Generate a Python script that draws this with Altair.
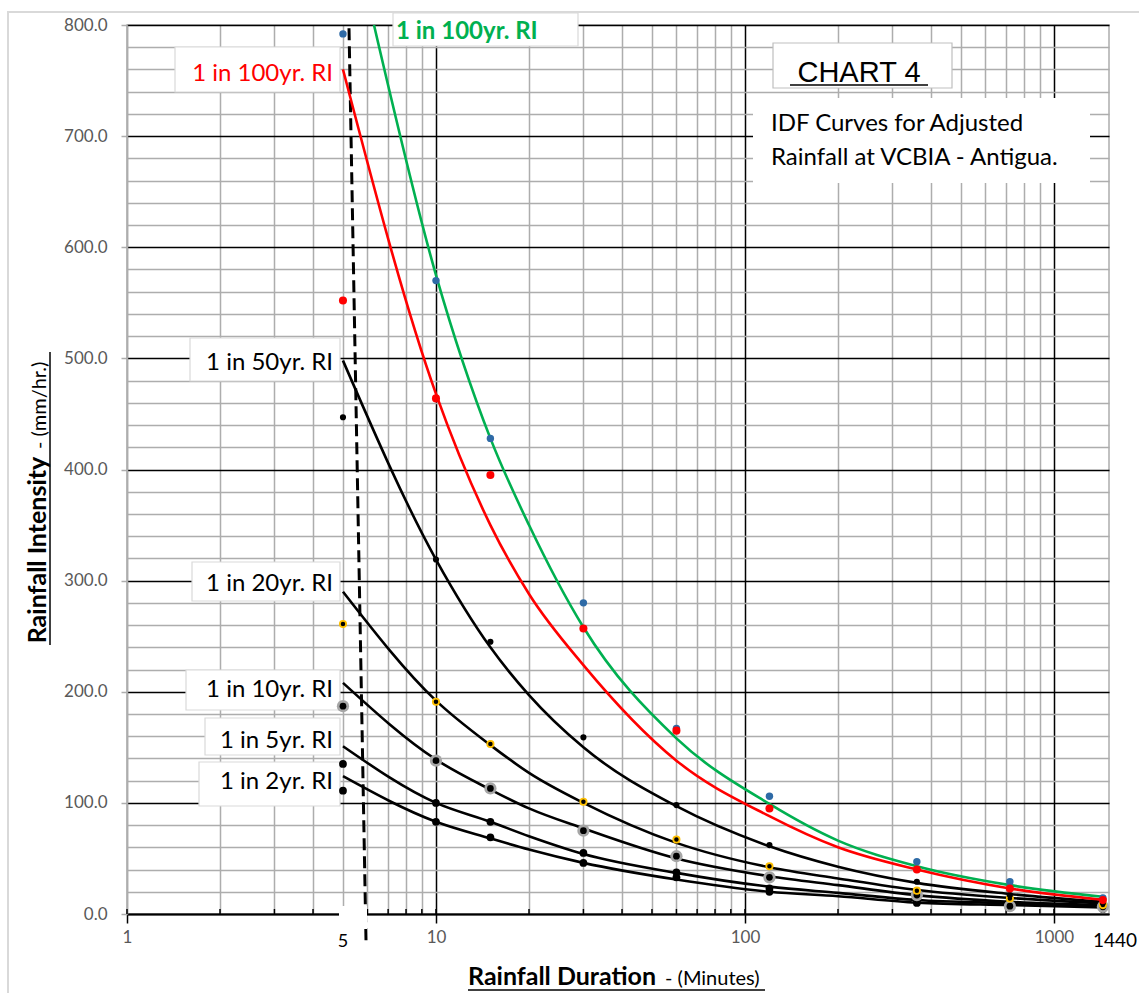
import altair as alt
import pandas as pd

# ---------------- data ----------------
durations = [5, 10, 15, 30, 60, 120, 360, 720, 1440]

pts_100_blue = [792, 570, 428, 280, 167, 106, 47, 29, 14.5]
pts_100_red = [552, 464, 395, 257, 165, 95, 40, 23, 12.5]
pts_50 = [447, 319, 245, 159, 98, 62, 29, 17, 10]
pts_20 = [261, 191, 153, 101, 67, 43, 21, 14, 8]
pts_10 = [187, 138, 113, 75, 52, 33, 17, 7, 6.5]
pts_5 = [135, 100, 83, 55, 37.5, 23, 12, 10, 5.5]
pts_2 = [111, 83, 69, 46, 33, 20, 10, 8, 4.5]

curve_dur = [5, 10, 15, 20, 30, 60, 120, 200, 360, 720, 1440]
curve_dur_green = [6.3, 10, 15, 20, 30, 60, 120, 200, 360, 720, 1440]
curve_100_green = [800, 575, 428, 350, 258, 158, 99, 66, 43, 26, 15.5]
curve_100_red = [760, 468, 350, 288, 224, 138, 88, 60, 40, 23, 12.8]
curve_50 = [498, 319, 240, 197, 150, 97, 61, 42.6, 28, 18, 11]
curve_20 = [290, 192, 152, 127, 100, 64, 42, 32, 21.6, 14.4, 9.6]
curve_10 = [208, 139, 112, 95, 77, 50, 34, 26, 17, 11, 8]
curve_5 = [151, 100, 83, 70, 54, 37, 24.6, 19, 12.6, 9.6, 6.6]
curve_2 = [124, 83, 68, 58, 46, 31, 20, 16, 10.2, 8, 6]

# dashed reference line (duration, intensity)
ref_line_dur = [5.23, 5.94]
ref_line_val = [797, -28]

# axis ticks / grid
grid_x = [1, 2, 3, 4, 5, 6, 7, 8, 9,
          10, 20, 30, 40, 50, 60, 70, 80, 90,
          100, 200, 300, 400, 500, 600, 700, 800, 900, 1000]
grid_y = list(range(0, 801, 20))

# ---------------- styling ----------------
FONT = "Lato"
GRAY = "#ADADAD"
LBL = "#595959"

major_x = "datum.value==10||datum.value==100||datum.value==1000"
label_x = "datum.value==1||datum.value==10||datum.value==100||datum.value==1000"

x_scale = alt.Scale(type="log", domain=[1, 1507], nice=False)
y_scale = alt.Scale(domain=[0, 800], nice=False, zero=False)

x_axis = alt.Axis(
    values=grid_x,
    labelExpr="(" + label_x + ") ? format(datum.value, 'd') : ''",
    grid=True,
    gridColor={"condition": {"test": major_x, "value": "#000000"}, "value": GRAY},
    gridWidth=1.5,
    tickColor={"condition": {"test": label_x, "value": "#000000"}, "value": "transparent"},
    tickSize=9, tickWidth=1.5,
    domainColor="#000000", domainWidth=2,
    labelColor=LBL, labelFont=FONT, labelFontSize=17, labelPadding=6,
    labelOverlap=False, labelFlush=False,
)
y_axis = alt.Axis(
    values=grid_y,
    labelExpr="datum.value % 100 == 0 ? format(datum.value, '.1f') : ''",
    grid=True,
    gridColor={"condition": {"test": "datum.value % 100 == 0", "value": "#000000"}, "value": GRAY},
    gridWidth=1.5,
    tickColor={"condition": {"test": "datum.value % 100 == 0", "value": GRAY}, "value": "transparent"},
    tickSize=6, tickWidth=1.5,
    domainColor=GRAY, domainWidth=1.5,
    labelColor=LBL, labelFont=FONT, labelFontSize=17, labelPadding=14,
    labelOverlap=False,
)

X = alt.X("dur:Q", scale=x_scale, axis=x_axis, title=None)
Y = alt.Y("val:Q", scale=y_scale, axis=y_axis, title=None)

one = pd.DataFrame({"t": [""]})


def df(xs, ys):
    return pd.DataFrame({"dur": xs, "val": ys})


def box(x1, y1, x2, y2, stroke="#D9D9D9"):
    kw = dict(fill="white")
    if stroke:
        kw.update(stroke=stroke, strokeWidth=1.2)
    return alt.Chart(one).mark_rect(**kw).encode(
        x=alt.value(x1), x2=alt.value(x2), y=alt.value(y1), y2=alt.value(y2))


def txt(s, x, y, **kw):
    base = dict(font=FONT, fontSize=24, color="black", baseline="alphabetic")
    base.update(kw)
    return alt.Chart(pd.DataFrame({"t": [s]})).mark_text(**base).encode(
        x=alt.value(x), y=alt.value(y), text="t:N")


def hrule(x1, x2, y, w=1.5):
    return alt.Chart(one).mark_rule(color="black", strokeWidth=w).encode(
        x=alt.value(x1), x2=alt.value(x2), y=alt.value(y))


def vrule(x, y1, y2, w=1.5):
    return alt.Chart(one).mark_rule(color="black", strokeWidth=w).encode(
        x=alt.value(x), y=alt.value(y1), y2=alt.value(y2))


layers = []

# base layer carries the axes (invisible points)
layers.append(alt.Chart(df(durations, pts_2)).mark_circle(opacity=0).encode(x=X, y=Y))

# small inward ticks on the x axis
layers.append(alt.Chart(pd.DataFrame({"dur": grid_x})).mark_rule(
    color="black", strokeWidth=1.5).encode(x=X, y=alt.value(884), y2=alt.value(889)))

# outer frame
layers.append(alt.Chart(one).mark_rect(fillOpacity=0, stroke="#D9D9D9", strokeWidth=2).encode(
    x=alt.value(-119), x2=alt.value(1030), y=alt.value(-13), y2=alt.value(1000)))

# white label boxes
layers += [
    box(48, 22, 213, 67),            # red 100yr
    box(266, -12, 451, 21),          # green 100yr
    box(63, 313, 213, 356),          # 50yr
    box(65, 537, 213, 576),          # 20yr
    box(59, 645, 213, 685),          # 10yr
    box(78, 693, 213, 730),          # 5yr
    box(72, 737, 213, 781),          # 2yr
    box(646, 18, 825, 63, stroke="#BFBFBF"),   # CHART 4
    box(626, 73, 963, 158, stroke=None),       # IDF description
]

# dashed reference line
layers.append(alt.Chart(df(ref_line_dur, ref_line_val)).mark_line(
    color="black", strokeWidth=3, strokeDash=[12, 6]).encode(x=X, y=Y))
# box behind "5" label covering axis
layers.append(box(212, 881, 240, 904, stroke=None))

# fitted curves
curve_specs = [
    (curve_dur, curve_2, "black"),
    (curve_dur, curve_5, "black"),
    (curve_dur, curve_10, "black"),
    (curve_dur, curve_20, "black"),
    (curve_dur, curve_50, "black"),
    (curve_dur, curve_100_red, "#FF0000"),
    (curve_dur_green, curve_100_green, "#00B050"),
]
for xs, ys, col in curve_specs:
    layers.append(alt.Chart(df(xs, ys)).mark_line(
        color=col, strokeWidth=2.6, interpolate="monotone").encode(x=X, y=Y))

# data points
layers.append(alt.Chart(df(durations, pts_2)).mark_circle(color="black", size=60, opacity=1).encode(x=X, y=Y))
layers.append(alt.Chart(df(durations, pts_5)).mark_circle(color="black", size=60, opacity=1).encode(x=X, y=Y))
layers.append(alt.Chart(df(durations, pts_10)).mark_circle(color="#A6A6A6", size=150, opacity=1).encode(x=X, y=Y))
layers.append(alt.Chart(df(durations, pts_10)).mark_circle(color="black", size=45, opacity=1).encode(x=X, y=Y))
layers.append(alt.Chart(df(durations, pts_20)).mark_circle(
    fill="black", stroke="#FFC000", strokeWidth=1.8, size=40, opacity=1).encode(x=X, y=Y))
layers.append(alt.Chart(df(durations, pts_50)).mark_circle(color="black", size=38, opacity=1).encode(x=X, y=Y))
layers.append(alt.Chart(df(durations, pts_100_blue)).mark_circle(color="#2E6AA6", size=55, opacity=1).encode(x=X, y=Y))
layers.append(alt.Chart(df(durations, pts_100_red)).mark_circle(color="#FF0000", size=65, opacity=1).encode(x=X, y=Y))

# curve labels
layers += [
    txt("1 in 100yr. RI", 206, 56, color="#FF0000", align="right"),
    txt("1 in 100yr. RI", 269, 14, color="#00B050", fontWeight="bold", align="left"),
    txt("1 in 50yr. RI", 206, 345, align="right"),
    txt("1 in 20yr. RI", 206, 566, align="right"),
    txt("1 in 10yr. RI", 206, 672, align="right"),
    txt("1 in 5yr. RI", 206, 723, align="right"),
    txt("1 in 2yr. RI", 206, 764, align="right"),
]

# chart title boxes
layers += [
    txt("CHART  4", 732, 57, font="Liberation Sans", fontSize=29, align="center"),
    hrule(663, 801, 60),
    txt("IDF Curves for Adjusted", 644, 106, fontSize=24, align="left"),
    txt("Rainfall at VCBIA - Antigua.", 644, 140, fontSize=24, align="left"),
]

# special x tick labels
layers += [
    txt("5", 216, 922, fontSize=18, align="center"),
    txt("1440", 988, 922, fontSize=19, align="center"),
]

# axis titles
layers += [
    txt("Rainfall Duration", 341, 960, fontSize=25, fontWeight="bold", align="left"),
    txt("- (Minutes)", 538, 960, fontSize=20, align="left"),
    hrule(341, 638, 965),
    txt("Rainfall Intensity", -81, 525, fontSize=25, fontWeight="bold", align="center", angle=270),
    txt("- (mm/hr.)", -81, 424, fontSize=20, align="left", angle=270),
    vrule(-77, 327, 620),
]

chart = alt.layer(*layers).properties(
    width=982,
    height=889,
    autosize=alt.AutoSizeParams(type="none"),
    padding={"left": 127, "top": 25, "right": 30, "bottom": 79},
    background="white",
).configure_view(stroke=GRAY, strokeWidth=1.5)

chart.save("out.html", embed_options={"renderer": "svg", "actions": False})
